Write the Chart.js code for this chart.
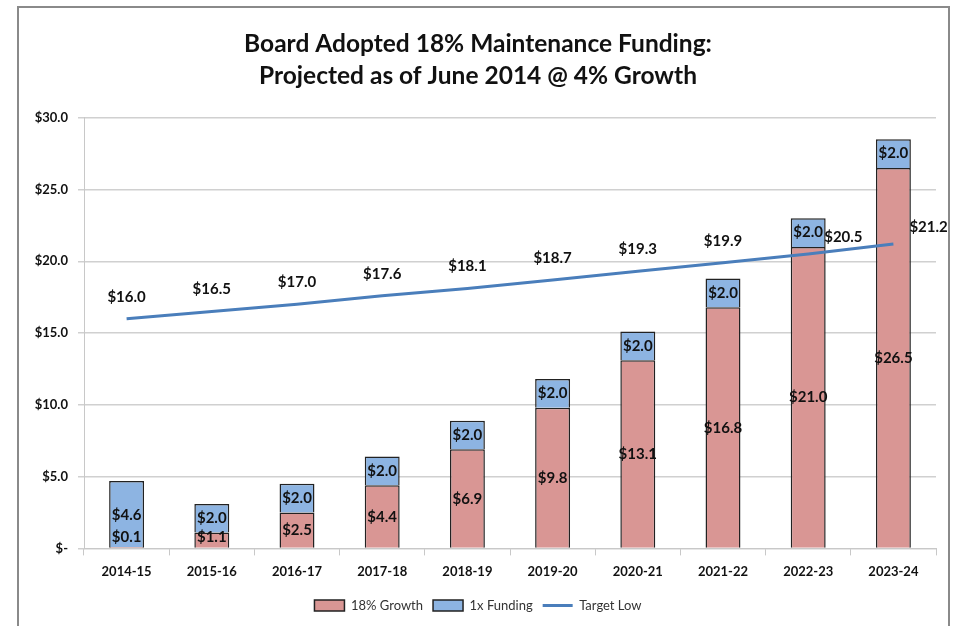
<!DOCTYPE html>
<html>
<head>
<meta charset="utf-8">
<script src="https://cdn.jsdelivr.net/npm/chart.js@4.4.0/dist/chart.umd.min.js"></script>
<style>
html,body{margin:0;padding:0;background:#fff;}
#wrap{position:relative;width:959px;height:626px;}
#frame{position:absolute;left:17px;top:6px;width:933px;height:640px;border:2px solid #8a8a8a;box-sizing:border-box;}
canvas{position:absolute;left:0;top:0;}
</style>
</head>
<body>
<div id="wrap"><div id="frame"></div><canvas id="c" width="959" height="626"></canvas></div>
<script>
const categories = ['2014-15','2015-16','2016-17','2017-18','2018-19','2019-20','2020-21','2021-22','2022-23','2023-24'];
const growth18 = [0.1, 1.1, 2.5, 4.4, 6.9, 9.8, 13.1, 16.8, 21.0, 26.5];
const funding1x = [4.6, 2.0, 2.0, 2.0, 2.0, 2.0, 2.0, 2.0, 2.0, 2.0];
const targetLow = [16.0, 16.5, 17.0, 17.6, 18.1, 18.7, 19.3, 19.9, 20.5, 21.2];
const yTicks = [0, 5, 10, 15, 20, 25, 30];

const FONT = 'Lato, "Open Sans", Arial, sans-serif';
const fmt = v => '$' + v.toFixed(1);

const labelPlugin = {
  id: 'valueLabels',
  afterDatasetsDraw(chart) {
    const ctx = chart.ctx;
    const y = chart.scales.y;
    ctx.save();
    ctx.font = 'bold 15px ' + FONT;
    ctx.fillStyle = '#111';
    ctx.textAlign = 'center';
    ctx.textBaseline = 'middle';
    const m0 = chart.getDatasetMeta(0), m2 = chart.getDatasetMeta(2);
    categories.forEach((c, i) => {
      const g = growth18[i], f = funding1x[i];
      const x = m0.data[i].x;
      let gy = y.getPixelForValue(g / 2);
      if (y.getPixelForValue(0) - gy < 10) gy = y.getPixelForValue(0) - 11;
      ctx.fillText(fmt(g), x, gy);
      let fy = y.getPixelForValue(g + f / 2);
      if (i === 0) fy = y.getPixelForValue(0) - 33;
      ctx.fillText(fmt(f), x, fy);
      const p = m2.data[i];
      if (i >= categories.length - 2) {
        ctx.textAlign = 'left';
        ctx.fillText(fmt(targetLow[i]), p.x + 16, p.y - 17);
        ctx.textAlign = 'center';
      } else {
        ctx.fillText(fmt(targetLow[i]), p.x, p.y - 22);
      }
    });
    ctx.restore();
  }
};

new Chart(document.getElementById('c'), {
  data: {
    labels: categories,
    datasets: [
      { type: 'bar', label: '18% Growth', data: growth18, backgroundColor: '#D99694', borderColor: '#222', borderWidth: 1.5, stack: 's', barPercentage: 0.41, categoryPercentage: 1, order: 2 },
      { type: 'bar', label: '1x Funding', data: funding1x, backgroundColor: '#8DB4E2', borderColor: '#222', borderWidth: 1.5, stack: 's', barPercentage: 0.41, categoryPercentage: 1, order: 2 },
      { type: 'line', label: 'Target Low', data: targetLow, borderColor: '#4A7EBB', backgroundColor: '#4A7EBB', borderWidth: 3, pointRadius: 0, tension: 0, order: 1 }
    ]
  },
  options: {
    responsive: false,
    animation: false,
    layout: { padding: { left: 20, right: 23, top: 0, bottom: 4 } },
    plugins: {
      title: {
        display: true,
        text: ['Board Adopted 18% Maintenance Funding:', 'Projected as of June 2014 @ 4% Growth'],
        color: '#111',
        font: { family: FONT, size: 24.5, weight: 'bold', lineHeight: 1.3 },
        padding: { top: 28, bottom: 26 }
      },
      legend: {
        position: 'bottom',
        labels: {
          color: '#333',
          font: { family: FONT, size: 13 },
          usePointStyle: true, pointStyleWidth: 30, boxHeight: 11, padding: 10,
          sort: (a, b) => a.datasetIndex - b.datasetIndex,
          generateLabels(chart) {
            const items = Chart.defaults.plugins.legend.labels.generateLabels(chart);
            items.forEach(it => {
              if (it.datasetIndex === 2) { it.pointStyle = 'line'; it.lineWidth = 3; it.strokeStyle = '#4A7EBB'; }
              else { it.pointStyle = 'rect'; it.lineWidth = 1.5; it.strokeStyle = '#222'; }
            });
            return items;
          }
        }
      },
      tooltip: { enabled: false }
    },
    scales: {
      x: {
        stacked: true,
        grid: { display: true, drawOnChartArea: false, offset: true, tickLength: 7, color: '#c8c8c8' },
        border: { color: '#c8c8c8' },
        ticks: { color: '#111', font: { family: FONT, size: 13, weight: 'bold' }, padding: 9 }
      },
      y: {
        stacked: true,
        min: 0, max: 30,
        afterBuildTicks(s) { s.ticks = yTicks.map(v => ({ value: v })); },
        afterFit(s) { s.width = 64; },
        grid: { color: '#d0d0d0', tickLength: 6, lineWidth: 1.5 },
        border: { color: '#c8c8c8' },
        ticks: { color: '#111', font: { family: FONT, size: 13, weight: 'bold' }, padding: 10,
          callback: v => v === 0 ? '$-' : '$' + v.toFixed(1) }
      }
    }
  },
  plugins: [labelPlugin]
});
</script>
</body>
</html>
